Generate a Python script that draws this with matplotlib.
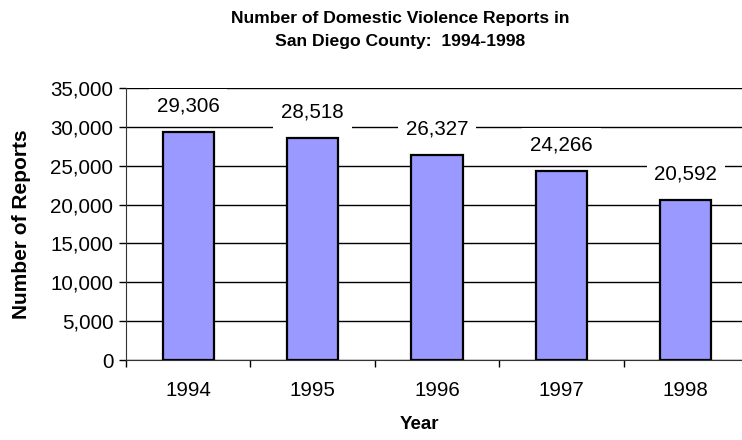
import matplotlib.pyplot as plt
from matplotlib.ticker import FuncFormatter

# Domestic violence reports, San Diego County
years = ['1994', '1995', '1996', '1997', '1998']
reports = [29306, 28518, 26327, 24266, 20592]

plt.rcParams['font.family'] = ['Liberation Sans', 'DejaVu Sans']

fig = plt.figure(figsize=(7.42, 4.40), dpi=100)
ax = fig.add_axes([126 / 742, 80 / 440, 622 / 742, 272 / 440])

x = range(len(years))
ax.bar(x, reports, width=0.41, color='#9999FF', edgecolor='black', linewidth=1.6, zorder=3)

ax.set_ylim(0, 35000)
ax.set_yticks(range(0, 35001, 5000))
ax.yaxis.set_major_formatter(FuncFormatter(lambda v, p: f'{int(v):,}'))
ax.set_xlim(-0.5, len(years) - 0.5)
ax.set_xticks(list(x))
ax.set_xticklabels(years)
ax.set_xticks([i + 0.5 for i in range(-1, len(years))], minor=True)
ax.tick_params(axis='x', which='major', length=0, pad=15, labelsize=14.8)
ax.tick_params(axis='x', which='minor', length=5, direction='out', width=1)
ax.tick_params(axis='y', length=5, direction='out', width=1, labelsize=14.8, pad=4)

ax.grid(axis='y', color='black', linewidth=1, zorder=0)
for s in ['top', 'right']:
    ax.spines[s].set_visible(False)
ax.spines['left'].set_color('#333333')
ax.spines['bottom'].set_color('#333333')

# value labels on white boxes above each bar
for i, v in enumerate(reports):
    ax.annotate(f'{v:,}', (i, v), xytext=(0, 19), textcoords='offset points',
                ha='center', va='center', fontsize=14.8, zorder=4,
                bbox=dict(boxstyle='square,pad=0.38', facecolor='white', edgecolor='none'))

ax.set_xlabel('Year', fontsize=13.5, fontweight='bold')
ax.set_ylabel('Number of Reports', fontsize=15, fontweight='bold')
ax.xaxis.set_label_coords(0.5 - 18 / 622, -56 / 272)
ax.yaxis.set_label_coords(-95 / 622, 0.5)

fig.text(400 / 742, 1 - 30 / 440, 'Number of Domestic Violence Reports in\nSan Diego County:  1994-1998',
         ha='center', va='center', fontsize=12.6, fontweight='bold', linespacing=1.6)

fig.savefig('out.png', dpi=100)
